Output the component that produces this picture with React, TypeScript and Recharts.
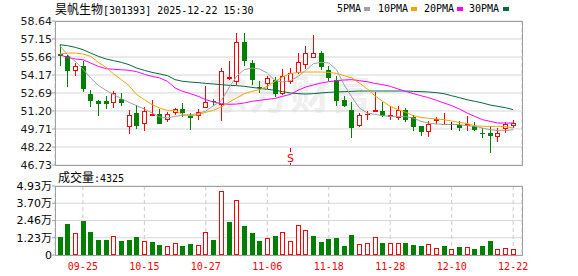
import React from 'react';
import { ComposedChart, Bar, Line, XAxis, YAxis, CartesianGrid, ReferenceDot } from 'recharts';

const dates = [
  '09-22','09-23','09-24','09-25','09-26','09-29','09-30',
  '10-09','10-10','10-13','10-14','10-15','10-16','10-17','10-20','10-21','10-22','10-23','10-24','10-27','10-28','10-29','10-30','10-31',
  '11-03','11-04','11-05','11-06','11-07','11-10','11-11','11-12','11-13','11-14','11-17','11-18','11-19','11-20','11-21','11-24','11-25','11-26','11-27','11-28',
  '12-01','12-02','12-03','12-04','12-05','12-08','12-09','12-10','12-11','12-12','12-15','12-16','12-17','12-18','12-19','12-22',
];
const xTicks = ['09-25','10-15','10-27','11-06','11-18','11-28','12-10','12-22'];
const priceTicks = [46.73, 48.22, 49.71, 51.2, 52.69, 54.17, 55.66, 57.15, 58.64];
const volTicks = [0, 12325, 24650, 36975, 49300];
const volTickLabels = ['0', '1.23万', '2.46万', '3.70万', '4.93万'];

const opens = [55.95,55.77,54.56,54.95,52.57,52.0,52.0,51.94,52.22,49.96,51.03,50.2,50.89,50.97,50.56,51.14,51.39,50.75,50.87,51.53,
  52.05,51.78,53.95,53.65,56.9,55.17,53.21,53.51,53.73,52.69,53.65,54.42,55.11,55.66,56.0,54.61,53.73,52.13,51.25,50.07,
  50.92,51.22,51.17,50.81,50.7,51.31,50.67,49.98,49.57,50.45,50.09,50.12,50.07,50.04,49.93,49.4,49.38,49.16,49.79,50.01];
const highs = [56.68,55.85,55.19,55.3,52.9,52.13,52.46,52.82,52.69,51.31,51.72,51.53,52.13,51.36,51.09,51.47,51.86,51.03,51.36,53.24,
  52.22,54.75,55.36,57.65,57.65,55.44,53.65,54.12,53.98,54.67,54.75,56.0,56.55,57.45,56.13,54.89,54.12,52.41,51.91,51.03,
  51.22,52.74,51.91,51.58,51.64,51.44,50.89,49.98,50.34,50.67,51.03,50.26,50.34,50.75,50.26,49.76,49.98,49.76,50.31,50.48];
const lows = [54.97,53.24,54.2,52.82,51.58,50.89,51.44,51.5,51.72,49.38,49.79,49.65,50.84,50.18,50.34,50.97,50.75,49.71,50.53,51.53,
  51.72,50.48,53.84,53.43,55.03,53.43,52.74,53.1,52.41,52.63,53.51,54.34,54.75,55.66,54.67,53.79,51.72,51.58,49.05,49.98,
  50.56,51.17,50.75,50.56,50.53,50.34,49.65,49.24,49.1,50.2,50.09,49.71,49.6,49.65,49.65,49.05,47.78,48.69,49.43,49.87];
const closes = [55.85,54.61,54.92,53.07,52.08,51.86,51.86,52.69,51.94,50.87,50.01,51.2,50.97,50.18,50.95,51.36,51.09,50.73,51.14,51.97,
  52.02,54.48,53.98,56.9,55.41,53.84,53.15,53.93,52.69,54.12,54.34,55.25,56.0,56.0,54.89,54.01,52.08,51.72,49.87,50.89,
  50.95,51.31,50.84,50.84,51.31,50.53,49.98,49.51,50.15,50.53,50.12,50.12,49.85,50.09,49.74,49.35,49.18,49.38,50.12,50.2];

const ma5 = [56.6,55.86,55.3,54.67,53.93,53.32,52.91,52.55,52.22,51.91,51.64,51.36,51.03,50.7,50.62,50.75,50.84,50.89,50.98,51.2,
  51.64,52.05,53.1,54.06,54.61,54.75,54.67,54.34,53.73,53.59,53.7,54.06,54.56,55.11,55.22,55.17,54.61,53.37,52.35,51.44,
  51.03,50.92,50.81,50.75,50.75,50.73,50.62,50.34,50.2,50.12,50.09,50.09,50.07,49.98,49.93,49.79,49.65,49.57,49.57,49.65];
const ma10 = [55.91,55.99,55.99,55.91,55.72,55.22,54.81,54.26,53.79,53.29,52.55,52.13,51.72,51.44,51.25,51.25,50.89,50.81,50.87,51.09,
  51.25,51.53,51.91,52.27,52.63,52.82,52.96,53.24,53.65,54.01,54.28,54.39,54.42,54.42,54.42,54.39,54.31,54.12,53.93,53.51,
  53.02,52.46,52.0,51.58,51.31,51.09,50.81,50.67,50.59,50.53,50.48,50.37,50.26,50.15,49.98,49.93,49.93,49.93,49.9,49.79];
const ma20 = [55.86,55.61,55.5,55.44,55.17,54.89,54.7,54.64,54.61,54.56,54.45,54.23,54.06,53.93,53.65,53.1,52.82,52.63,52.41,52.13,
  51.94,51.8,51.75,51.77,51.86,52.0,52.08,52.16,52.24,52.41,52.57,52.91,53.18,53.35,53.51,53.62,53.7,53.76,53.79,53.7,
  53.62,53.48,53.37,53.24,53.02,52.82,52.63,52.46,52.3,52.08,51.86,51.64,51.36,51.03,50.75,50.48,50.34,50.2,50.2,50.2];
const ma30 = [56.68,56.6,56.46,56.27,55.99,55.72,55.5,55.36,55.22,55.03,54.75,54.56,54.39,54.26,54.12,53.79,53.65,53.59,53.54,53.48,
  53.43,53.37,53.32,53.29,53.24,53.15,53.07,52.99,52.91,52.8,52.69,52.63,52.6,52.63,52.69,52.74,52.77,52.8,52.82,52.85,
  52.85,52.85,52.85,52.85,52.85,52.85,52.82,52.8,52.77,52.71,52.63,52.46,52.3,52.13,52.0,51.86,51.69,51.58,51.47,51.31];

const volumes = [12900,22100,15500,24300,16400,10700,10700,13300,10200,10700,12900,10000,9300,7100,6200,8300,6400,7900,6900,16200,
  10700,45500,23600,39000,20700,15700,10000,11900,13600,16200,9800,21200,17600,13600,9300,11400,12100,6400,14300,7900,
  8600,12600,8600,8600,8600,8600,7100,6400,7900,5000,6400,4000,5700,5700,4300,6400,10000,4300,5000,4325];
const volUp = [0,0,1,0,0,0,0,1,0,0,0,1,0,0,1,1,0,0,1,1,
  0,1,0,1,0,0,0,1,0,1,1,1,1,0,0,0,0,0,0,1,
  1,1,0,1,1,0,0,0,1,1,0,1,0,1,0,0,0,1,1,1];

const markerDate = '11-11';
const markerValue = 47.3;

const RED = '#ff0000';
const GREEN = '#008000';
const MA5C = '#a0a0a0';
const MA10C = '#f5a300';
const MA20C = '#ff00ff';
const MA30C = '#006b3c';
const FRAME = '#a0a0a0';

const data = dates.map((d, i) => ({
  date: d,
  open: opens[i],
  high: highs[i],
  low: lows[i],
  close: closes[i],
  ma5: ma5[i],
  ma10: ma10[i],
  ma20: ma20[i],
  ma30: ma30[i],
  vol: volumes[i],
  volUp: volUp[i] === 1,
}));

const Candle = (props: any) => {
  const { x, y, width, height, payload } = props;
  if (!payload || height == null) return null;
  const { open, close, high, low } = payload;
  const cx = Math.round(x + width / 2);
  const k = height / (high - low);
  const py = (v: number) => y + (high - v) * k;
  const color = close > open ? RED : close < open ? GREEN : '#000000';
  const yh = Math.round(py(high));
  const yl = Math.round(py(low));
  const yo = Math.round(py(open));
  const yc = Math.round(py(close));
  const top = Math.min(yo, yc);
  const bot = Math.max(yo, yc);
  let body;
  if (bot - top < 1) {
    body = <line x1={cx - 2} x2={cx + 3} y1={top + 0.5} y2={top + 0.5} stroke={color} strokeWidth={1} />;
  } else if (close > open) {
    body = <rect x={cx - 2 + 0.5} y={top + 0.5} width={4} height={bot - top} fill="#ffffff" stroke={color} strokeWidth={1} />;
  } else {
    body = <rect x={cx - 2} y={top} width={5} height={bot - top + 1} fill={color} />;
  }
  return (
    <g>
      <line x1={cx + 0.5} x2={cx + 0.5} y1={yh} y2={yl + 1} stroke={color} strokeWidth={1} />
      {body}
    </g>
  );
};

const VolBar = (props: any) => {
  const { x, y, width, height, payload } = props;
  if (!payload || height == null) return null;
  const cx = Math.round(x + width / 2);
  const top = Math.round(y);
  const bot = Math.round(y + height);
  if (payload.volUp) {
    return <rect x={cx - 2 + 0.5} y={top + 0.5} width={4} height={Math.max(bot - top - 1, 0)} fill="#ffffff" stroke={RED} strokeWidth={1} />;
  }
  return <rect x={cx - 2} y={top} width={5} height={bot - top} fill={GREEN} />;
};

const SMarker = (props: any) => {
  const { cx, cy } = props;
  if (cx == null) return null;
  const x = Math.round(cx) + 0.5;
  return (
    <g>
      <line x1={x} x2={x} y1={cy - 10} y2={cy - 6} stroke={RED} strokeWidth={1} />
      <text x={x} y={cy + 4} textAnchor="middle" fill={RED} fontSize={11} fontFamily="DejaVu Sans">S</text>
      <line x1={x} x2={x} y1={cy + 5} y2={cy + 7} stroke={RED} strokeWidth={1} />
    </g>
  );
};

const legendItems = [
  { label: '5PMA', color: MA5C, x: 337, sq: 364 },
  { label: '10PMA', color: MA10C, x: 378, sq: 411 },
  { label: '20PMA', color: MA20C, x: 424, sq: 457 },
  { label: '30PMA', color: MA30C, x: 469, sq: 503 },
];

const mono = '"DejaVu Sans Mono", monospace';
const cjk = '"Noto Sans CJK SC", sans-serif';

export default function App() {
  const tickStyle = { fontSize: 11, fill: '#1a1a1a', fontFamily: '"DejaVu Sans", sans-serif' };
  return (
    <div style={{ position: 'absolute', left: 0, top: 0, width: 578, height: 276, background: '#ffffff', overflow: 'hidden' }}>
      {/* watermark */}
      <div style={{ position: 'absolute', left: 208, top: 68, fontFamily: cjk, fontSize: 40, fontWeight: 700, color: '#efefef', lineHeight: '48px', letterSpacing: 1 }}>东方财富</div>

      {/* title */}
      <div style={{ position: 'absolute', left: 55, top: 2, height: 14, lineHeight: '14px', whiteSpace: 'nowrap', color: '#000' }}>
        <span style={{ fontFamily: cjk, fontSize: 12 }}>昊帆生物</span>
        <span style={{ fontFamily: mono, fontSize: 10 }}>[301393] 2025-12-22 15:30</span>
      </div>
      {legendItems.map((it) => (
        <React.Fragment key={it.label}>
          <div style={{ position: 'absolute', left: it.x, top: 2, lineHeight: '14px', fontFamily: mono, fontSize: 10, color: '#000' }}>{it.label}</div>
          <div style={{ position: 'absolute', left: it.sq, top: 7, width: 6, height: 4, background: it.color }} />
        </React.Fragment>
      ))}

      {/* main price chart */}
      <div style={{ position: 'absolute', left: 0, top: 0 }}>
        <ComposedChart width={578} height={180} data={data} margin={{ top: 21, right: 56, bottom: 15, left: 0 }}>
          <CartesianGrid vertical={false} stroke="#d6d6d6" />
          <CartesianGrid horizontal={false} stroke="#cccccc" strokeDasharray="4 3" />
          <XAxis dataKey="date" ticks={xTicks} interval={0} padding={{ left: 1, right: 5 }} height={0} tick={false} axisLine={false} tickLine={false} />
          <YAxis
            domain={[46.73, 58.64]}
            ticks={priceTicks}
            interval={0}
            allowDataOverflow
            width={55}
            axisLine={false}
            tickLine={{ stroke: FRAME }}
            tickSize={3}
            tickMargin={0}
            tick={tickStyle}
            tickFormatter={(v: number) => v.toFixed(2)}
          />
          <Bar dataKey={(d: any) => [d.low, d.high]} shape={<Candle />} barSize={5} isAnimationActive={false} />
          <Line dataKey="ma30" stroke={MA30C} strokeWidth={1} dot={false} isAnimationActive={false} />
          <Line dataKey="ma20" stroke={MA20C} strokeWidth={1} dot={false} isAnimationActive={false} />
          <Line dataKey="ma10" stroke={MA10C} strokeWidth={1} dot={false} isAnimationActive={false} />
          <Line dataKey="ma5" stroke={MA5C} strokeWidth={1} dot={false} isAnimationActive={false} />
          <ReferenceDot x={markerDate} y={markerValue} r={0} shape={<SMarker />} ifOverflow="visible" />
        </ComposedChart>
      </div>
      <div style={{ position: 'absolute', left: 55, top: 21, width: 468, height: 145, boxSizing: 'border-box', border: `1px solid ${FRAME}`, pointerEvents: 'none' }} />

      {/* volume label */}
      <div style={{ position: 'absolute', left: 58, top: 170, lineHeight: '14px', whiteSpace: 'nowrap', color: '#000' }}>
        <span style={{ fontFamily: cjk, fontSize: 12 }}>成交量</span>
        <span style={{ fontFamily: mono, fontSize: 10 }}>:4325</span>
      </div>

      {/* volume chart */}
      <div style={{ position: 'absolute', left: 0, top: 170 }}>
        <ComposedChart width={578} height={106} data={data} margin={{ top: 16, right: 56, bottom: 0, left: 0 }}>
          <CartesianGrid vertical={false} stroke="#d6d6d6" />
          <CartesianGrid horizontal={false} stroke="#cccccc" strokeDasharray="4 3" />
          <XAxis
            dataKey="date"
            ticks={xTicks}
            interval={0}
            padding={{ left: 1, right: 5 }}
            height={21}
            axisLine={false}
            tickLine={false}
            tickSize={4}
            tickMargin={4}
            tick={{ fontSize: 10, fill: RED, fontFamily: mono }}
          />
          <YAxis
            domain={[0, 49300]}
            ticks={volTicks}
            interval={0}
            allowDataOverflow
            width={55}
            axisLine={false}
            tickLine={{ stroke: FRAME }}
            tickSize={3}
            tickMargin={0}
            tick={{ fontSize: 11, fill: '#000', fontFamily: '"DejaVu Sans", "Noto Sans CJK SC", sans-serif' }}
            tickFormatter={(v: number) => volTickLabels[volTicks.indexOf(v)] ?? ''}
          />
          <Bar dataKey="vol" shape={<VolBar />} barSize={5} isAnimationActive={false} />
        </ComposedChart>
      </div>
      <div style={{ position: 'absolute', left: 55, top: 186, width: 468, height: 70, boxSizing: 'border-box', border: `1px solid ${FRAME}`, pointerEvents: 'none' }} />
    </div>
  );
}
